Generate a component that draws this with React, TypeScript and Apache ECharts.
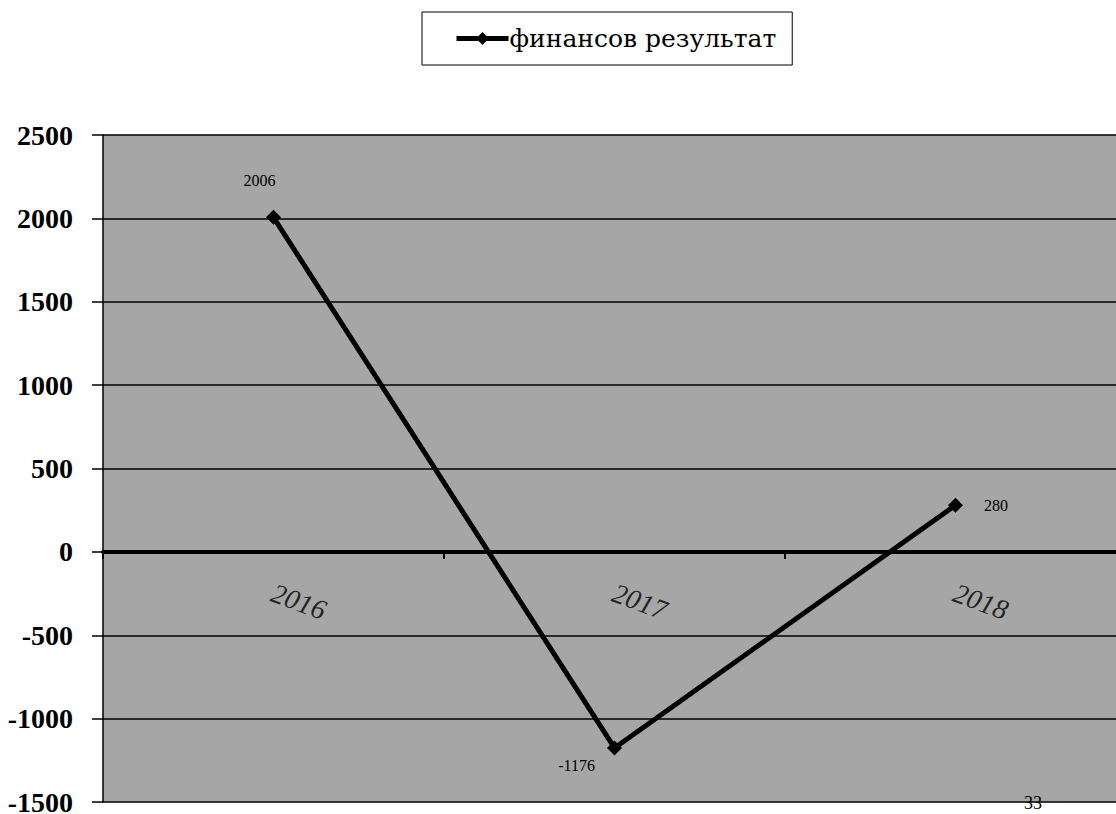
import React, { useEffect, useRef } from "react";
import * as echarts from "echarts";

const categories = ["2016", "2017", "2018"];
const seriesName = "финансов результат";
const values = [2006, -1176, 280];
const yTicks = { min: -1500, max: 2500, interval: 500 };

const SERIF = "'Liberation Serif', 'DejaVu Serif', serif";
const CYR_SERIF = "'DejaVu Serif', serif";

export default function App() {
  const ref = useRef<HTMLDivElement>(null);
  useEffect(() => {
    if (!ref.current) return;
    const chart = echarts.init(ref.current, undefined, { renderer: "svg" });
    const labelCfg = [
      { position: "top", distance: 21, offset: [-14, 0] },
      { position: "bottom", distance: 2, offset: [-38, 0] },
      { position: "right", distance: 21, offset: [0, 0] },
    ];
    chart.setOption({
      animation: false,
      backgroundColor: "#ffffff",
      legend: {
        left: 422,
        top: 12,
        data: [seriesName],
        borderColor: "#000",
        borderWidth: 1,
        borderRadius: 0,
        padding: [14, 16, 14, 32],
        itemWidth: 52,
        itemHeight: 16,
        itemGap: 4,
        lineStyle: { width: 5, color: "#000" },
        textStyle: { fontFamily: CYR_SERIF, fontSize: 25, color: "#000", padding: [0, 0, 0, -4] },
      },
      grid: {
        left: 103,
        top: 135,
        bottom: 12,
        right: -10,
        show: true,
        backgroundColor: "#a6a6a6",
        borderWidth: 0,
        containLabel: false,
        outerBoundsMode: "none",
      },
      xAxis: {
        type: "category",
        data: categories,
        boundaryGap: true,
        axisLine: { onZero: true, lineStyle: { color: "#000", width: 4 } },
        axisTick: { show: true, length: 7, lineStyle: { color: "#000", width: 2 } },
        axisLabel: { show: false },
        splitLine: { show: false },
      },
      yAxis: {
        type: "value",
        min: yTicks.min,
        max: yTicks.max,
        interval: yTicks.interval,
        axisLine: { show: true, lineStyle: { color: "#000", width: 1.5 } },
        axisTick: { show: true, length: 11, lineStyle: { color: "#000", width: 1.5 } },
        axisLabel: {
          margin: 30,
          fontFamily: SERIF,
          fontWeight: "bold",
          fontSize: 28,
          lineHeight: 20,
          color: "#000",
          formatter: (v: number) => String(v),
        },
        splitLine: { show: true, lineStyle: { color: "#000", width: 1.5 } },
      },
      graphic: [
        {
          type: "text",
          left: 1024,
          top: 794,
          style: { text: "33", font: "18px " + SERIF, fill: "#000" },
        },
      ],
      series: [
        {
          name: seriesName,
          type: "line",
          data: values.map((v, i) => ({
            value: v,
            label: {
              show: true,
              position: labelCfg[i].position,
              distance: labelCfg[i].distance,
              offset: labelCfg[i].offset,
            },
          })),
          symbol: "diamond",
          symbolSize: 15,
          lineStyle: { color: "#000", width: 5 },
          itemStyle: { color: "#000" },
          label: {
            show: true,
            fontFamily: SERIF,
            fontSize: 16,
            color: "#000",
          },
          z: 3,
        },
        {
          name: "categoryLabels",
          type: "scatter",
          silent: true,
          symbol: "circle",
          symbolSize: 2,
          itemStyle: { color: "rgba(0,0,0,0)" },
          data: categories.map((c) => ({ name: c, value: [c, 0] })),
          label: {
            show: true,
            formatter: (p: any) => p.name,
            position: [0, 41],
            align: "left",
            verticalAlign: "middle",
            rotate: -20,
            fontFamily: SERIF,
            fontStyle: "italic",
            fontSize: 28,
            color: "#000",
          },
          z: 2,
        },
      ],
    });
    return () => chart.dispose();
  }, []);
  return (
    <div
      ref={ref}
      style={{ position: "fixed", left: 0, top: 0, width: 1116, height: 814, overflow: "hidden" }}
    />
  );
}
